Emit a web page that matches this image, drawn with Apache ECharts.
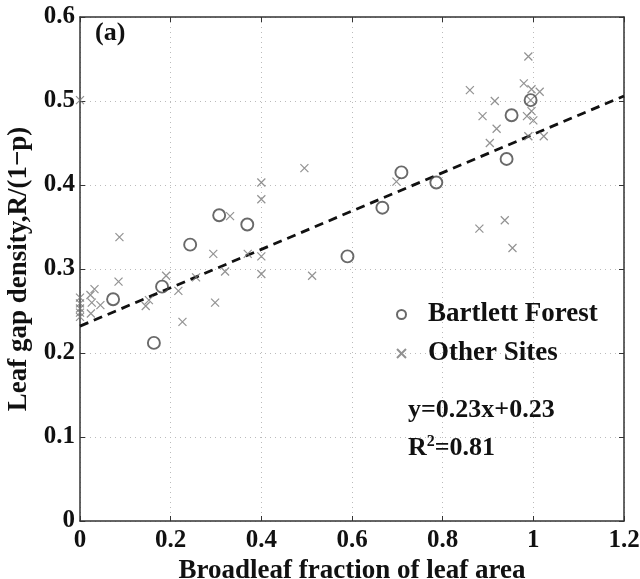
<!DOCTYPE html>
<html>
<head>
<meta charset="utf-8">
<script src="https://cdn.jsdelivr.net/npm/echarts@6.0.0/dist/echarts.min.js"></script>
<style>
  html, body { margin: 0; padding: 0; background: #fff; }
  #chart { width: 640px; height: 579px; }
</style>
</head>
<body>
<div id="chart"></div>
<script>
// 数据
const bartlettX = [0.073, 0.163, 0.181, 0.243, 0.307, 0.369, 0.590, 0.667, 0.709, 0.786, 0.941, 0.952, 0.994];
const bartlettY = [0.264, 0.212, 0.279, 0.329, 0.364, 0.353, 0.315, 0.373, 0.415, 0.403, 0.431, 0.483, 0.501];

const otherX = [0, 0, 0, 0, 0, 0,
  0.023, 0.024, 0.026, 0.032, 0.045, 0.085, 0.087, 0.145, 0.152,
  0.190, 0.217, 0.226, 0.256, 0.294, 0.298, 0.320, 0.331, 0.370,
  0.400, 0.400, 0.400, 0.400, 0.495, 0.512, 0.698,
  0.860, 0.881, 0.888, 0.904, 0.915, 0.919, 0.937, 0.954,
  0.979, 0.989, 0.986, 0.989, 0.994, 0.996, 0.996, 1.000, 1.014, 1.023];
const otherY = [0.501, 0.266, 0.259, 0.253, 0.248, 0.243,
  0.269, 0.247, 0.260, 0.276, 0.257, 0.285, 0.338, 0.256, 0.263,
  0.292, 0.274, 0.237, 0.290, 0.318, 0.260, 0.297, 0.363, 0.318,
  0.403, 0.383, 0.315, 0.294, 0.420, 0.292, 0.404,
  0.513, 0.348, 0.482, 0.450, 0.500, 0.467, 0.358, 0.325,
  0.521, 0.553, 0.482, 0.458, 0.501, 0.514, 0.488, 0.477, 0.511, 0.458];

// 拟合线 y=0.23x+0.23 的两个端点
const fitX = [0, 1.2];
const fitY = [0.232, 0.506];

const zip = (xs, ys) => xs.map((x, i) => [x, ys[i]]);
const serif = 'Liberation Serif';
const crossPath = 'path://M0,0L10,10M10,0L0,10';

const myChart = echarts.init(document.getElementById('chart'));

const tickStyle = { inside: true, length: 5, lineStyle: { color: '#333', width: 1 } };
const tickLabel = { fontFamily: serif, fontWeight: 'bold', fontSize: 25, color: '#111' };
const bigText = { fontFamily: serif, fontWeight: 'bold', fontSize: 27, color: '#111' };
const gridLine = { show: true, lineStyle: { color: '#bbb', type: [1, 4], width: 1 } };
const boxLine = { show: true, onZero: false, lineStyle: { color: '#333', width: 1.5 } };

myChart.setOption({
  backgroundColor: '#fff',
  animation: false,
  grid: { left: 80, right: 16, top: 17, bottom: 58, outerBoundsMode: 'none' },
  legend: {
    orient: 'vertical',
    left: 396,
    top: 301,
    padding: 0,
    itemWidth: 9,
    itemHeight: 9,
    itemGap: 12,
    textStyle: Object.assign({ padding: [0, 0, 0, 17], lineHeight: 27 }, bigText),
    data: ['Bartlett Forest', 'Other Sites']
  },
  xAxis: [
    {
      type: 'value', min: 0, max: 1.2, interval: 0.2,
      name: 'Broadleaf fraction of leaf area',
      nameLocation: 'middle', nameGap: 20,
      nameTextStyle: Object.assign({ verticalAlign: 'top' }, bigText),
      axisLine: boxLine,
      axisTick: tickStyle,
      axisLabel: Object.assign({ margin: 7, formatter: v => String(+v.toFixed(1)) }, tickLabel),
      splitLine: gridLine
    },
    {
      type: 'value', min: 0, max: 1.2, interval: 0.2, position: 'top',
      axisLine: boxLine, axisTick: tickStyle, axisLabel: { show: false }, splitLine: { show: false }
    }
  ],
  yAxis: [
    {
      type: 'value', min: 0, max: 0.6, interval: 0.1,
      name: 'Leaf gap density,R/(1\u2212p)',
      nameLocation: 'middle', nameGap: 42,
      nameTextStyle: bigText,
      axisLine: boxLine,
      axisTick: tickStyle,
      axisLabel: Object.assign({ margin: 5, formatter: v => String(+v.toFixed(1)) }, tickLabel),
      splitLine: gridLine
    },
    {
      type: 'value', min: 0, max: 0.6, interval: 0.1, position: 'right',
      axisLine: boxLine, axisTick: tickStyle, axisLabel: { show: false }, splitLine: { show: false }
    }
  ],
  graphic: [
    { type: 'text', left: 95, top: 20, style: { text: '(a)', font: 'bold 26px "Liberation Serif"', fill: '#111' } },
    { type: 'text', left: 408, top: 397, style: { text: 'y=0.23x+0.23', font: 'bold 26px "Liberation Serif"', fill: '#111' } },
    {
      type: 'text', left: 408, top: 434,
      style: {
        text: '{a|R}{s|2}{a|=0.81}',
        rich: {
          a: { font: 'bold 26px "Liberation Serif"', fill: '#111', verticalAlign: 'bottom' },
          s: { font: 'bold 16px "Liberation Serif"', fill: '#111', padding: [0, 0, 11, 0], verticalAlign: 'bottom' }
        }
      }
    }
  ],
  series: [
    {
      name: 'fit',
      type: 'line',
      data: zip(fitX, fitY),
      showSymbol: false,
      silent: true,
      lineStyle: { color: '#111', width: 2.8, type: [9, 6] },
      z: 1
    },
    {
      name: 'Bartlett Forest',
      type: 'scatter',
      symbol: 'circle',
      symbolSize: 12,
      data: zip(bartlettX, bartlettY),
      itemStyle: { color: 'rgba(255,255,255,0)', borderColor: '#444', borderWidth: 1.9 },
      z: 3
    },
    {
      name: 'Other Sites',
      type: 'scatter',
      symbol: crossPath,
      symbolSize: 8,
      data: zip(otherX, otherY),
      itemStyle: { color: 'transparent', borderColor: '#777', borderWidth: 1.2 },
      z: 2
    }
  ]
});
</script>
</body>
</html>
